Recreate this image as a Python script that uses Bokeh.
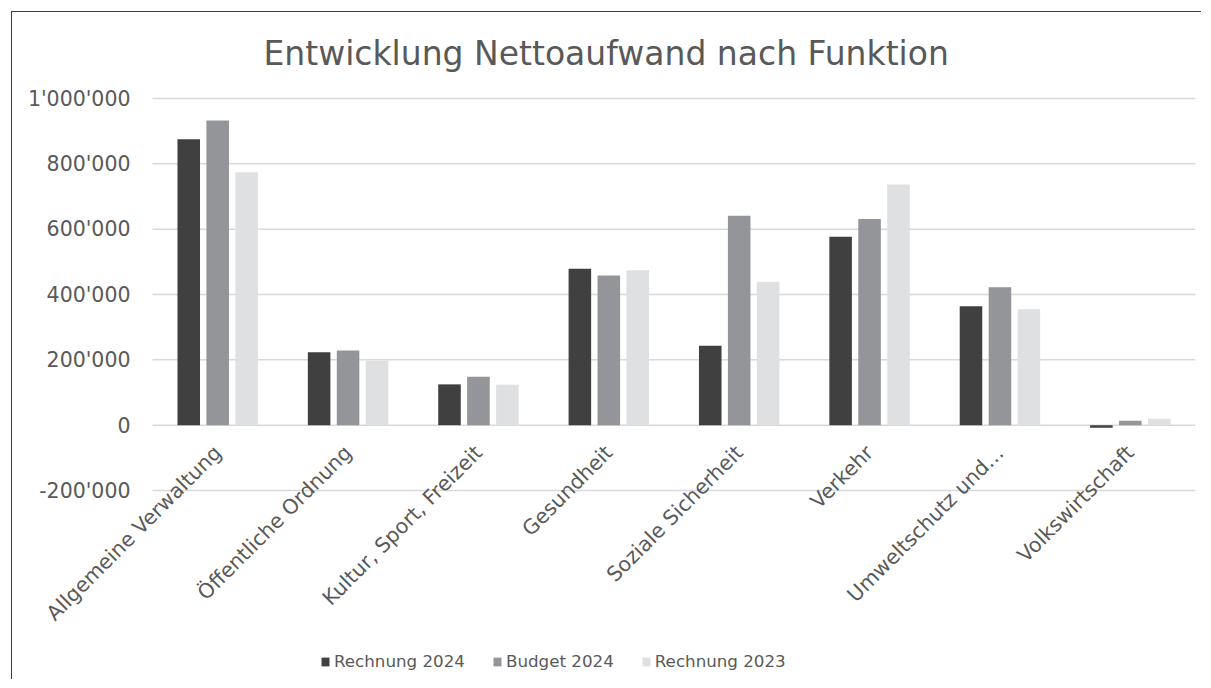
import math
from bokeh.plotting import figure
from bokeh.models import Range1d, ColumnDataSource, Label, Legend, LegendItem
from bokeh.transform import dodge
from bokeh.embed import file_html
from bokeh.resources import INLINE

# ---------------- data ----------------
categories = ["Allgemeine Verwaltung", "Öffentliche Ordnung", "Kultur, Sport, Freizeit",
              "Gesundheit", "Soziale Sicherheit", "Verkehr", "Umweltschutz und…",
              "Volkswirtschaft"]
series_names = ["Rechnung 2024", "Budget 2024", "Rechnung 2023"]
rechnung_2024 = [875000, 223000, 125000, 479000, 243000, 577000, 364000, -8000]
budget_2024 = [933000, 229000, 148000, 458000, 641000, 631000, 422000, 14000]
rechnung_2023 = [774000, 197000, 124000, 474000, 439000, 737000, 355000, 20000]
y_ticks = [-200000, 0, 200000, 400000, 600000, 800000, 1000000]
y_tick_labels = ["-200'000", "0", "200'000", "400'000", "600'000", "800'000", "1'000'000"]
title_text = "Entwicklung Nettoaufwand nach Funktion"

# ---------------- style / layout ----------------
colors = ["#404040", "#939598", "#DFE0E2"]
text_color = "#595959"
font = "DejaVu Sans"

W, H = 1190, 668
FT, FR, FB = 66, 7, 8
top_pad_px = 20                         # space in frame above the top tick
plot_left_px = 140                      # where the first category starts (screen px in frame)
frame_w = W - FR
frame_h = H - FT - FB
n = len(categories)
px_per_cat = (frame_w - plot_left_px) / n
x_start = -plot_left_px / px_per_cat
px_per_unit = 326.7 / 1e6
y_end = max(y_ticks) + top_pad_px / px_per_unit
y_start = y_end - frame_h / px_per_unit

p = figure(width=W, height=H,
           x_range=Range1d(x_start, n), y_range=Range1d(y_start, y_end),
           output_backend="svg", toolbar_location=None,
           x_axis_location=None, y_axis_location=None,
           min_border_left=0, min_border_top=FT, min_border_right=FR, min_border_bottom=FB)
p.styles = {"margin-left": "11px", "margin-top": "11px",
            "border-left": "1px solid #3c3c3c", "border-top": "1px solid #3c3c3c"}
p.outline_line_color = None
p.background_fill_color = "white"
p.border_fill_color = "white"
p.grid.visible = False

# title
p.title.text = title_text
p.title.align = "left"
p.title.offset = 251
p.title.text_font = font
p.title.text_font_size = "33px"
p.title.text_font_style = "normal"
p.title.text_color = text_color
p.title.standoff = 12

# horizontal gridlines at the value ticks, spanning the category area
grid_src = ColumnDataSource(dict(y=y_ticks, x0=[0] * len(y_ticks), x1=[n] * len(y_ticks)))
p.segment(x0="x0", x1="x1", y0="y", y1="y", source=grid_src,
          line_color="#D9D9D9", line_width=1.5)

# value tick labels
for t, lab in zip(y_ticks, y_tick_labels):
    p.add_layout(Label(x=0, y=t, text=lab, x_offset=-22, text_align="right",
                       text_baseline="middle", text_font=font, text_font_size="20.5px",
                       text_color=text_color))

# bars
src = ColumnDataSource(dict(xc=[i + 0.5 for i in range(n)], cat=categories,
                            r24=rechnung_2024, b24=budget_2024, r23=rechnung_2023))
offsets = [-0.222, 0.0, 0.222]
cols = ["r24", "b24", "r23"]
renderers = []
for off, col, c in zip(offsets, cols, colors):
    r = p.vbar(x=dodge("xc", off), top=col, bottom=0, width=0.173,
               source=src, fill_color=c, line_color=None)
    renderers.append(r)

# category labels (rotated, anchored just below the zero line)
for i, cat in enumerate(categories):
    p.add_layout(Label(x=i + 0.5, y=0, text=cat, angle=math.pi / 4,
                       text_align="right", text_baseline="middle",
                       x_offset=0, y_offset=-24,
                       text_font=font, text_font_size="20.5px", text_color=text_color))

# legend
legend = Legend(items=[LegendItem(label=s, renderers=[r]) for s, r in zip(series_names, renderers)],
                orientation="horizontal", location=(308, 1),
                glyph_width=10, glyph_height=11, label_standoff=4, spacing=27,
                padding=0, margin=0, border_line_color=None, background_fill_alpha=0,
                label_text_font=font, label_text_font_size="16.7px",
                label_text_color=text_color, label_height=14)
p.add_layout(legend)

open("out.html", "w").write(file_html(p, INLINE))
